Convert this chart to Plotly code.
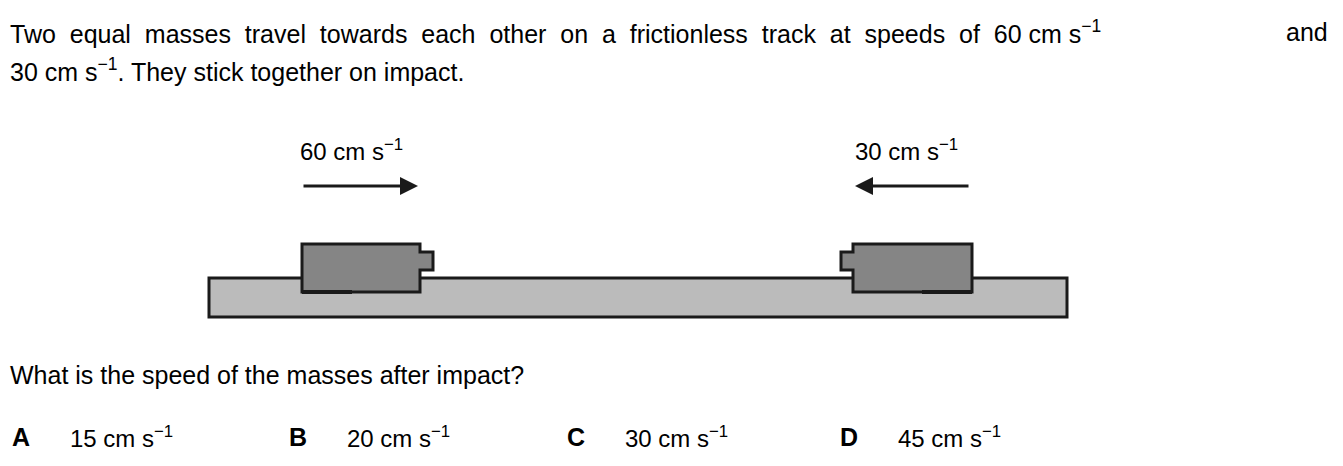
import plotly.graph_objects as go

speeds = [60, 30]
options = ["A", "B", "C", "D"]
answers = [15, 20, 30, 45]
option_x = [10, 287, 565, 838]

W, H = 1343, 466
OFF = 8  # page body margin
FONT = "Liberation Sans, Arial, sans-serif"
unit = " cm s<sup>−1</sup>"

fig = go.Figure()

ann = []


def text(x, y, s, size=25, anchor="left", bold=False):
    ann.append(dict(x=x, y=y, text=f"<b>{s}</b>" if bold else s, showarrow=False,
                    xanchor=anchor, yanchor="middle",
                    font=dict(family=FONT, size=size, color="black")))


text(8, 32, "Two  equal  masses  travel  towards  each  other  on  a  frictionless  track  at  speeds  of  "
     f"{speeds[0]}{unit}")
text(1330, 32, "and", anchor="right")
text(8, 70, f"{speeds[1]}{unit}. They stick together on impact.")
text(298, 150, f"{speeds[0]}{unit}", size=24)
text(853, 150, f"{speeds[1]}{unit}", size=24)
text(8, 375, "What is the speed of the masses after impact?")
for x0, o, a in zip(option_x, options, answers):
    text(x0, 437, o, bold=True)
    text(x0 + 58, 437, f"{a}{unit}", size=24)

line = dict(color="#1a1a1a", width=3)
shapes = [
    dict(type="rect", x0=209, x1=1067, y0=278, y1=317, fillcolor="#bbbbbb", line=line),
]
# carts: left faces right, right faces left
shapes.append(dict(type="path", path="M302,244 L420,244 L420,252 L433,252 L433,270 L420,270 L420,292 L302,292 Z",
                   fillcolor="#858585", line=line))
shapes.append(dict(type="path", path="M972,244 L853,244 L853,252 L841,252 L841,270 L853,270 L853,292 L972,292 Z",
                   fillcolor="#858585", line=line))
shapes.append(dict(type="line", x0=302, x1=352, y0=292, y1=292, line=dict(color="#1a1a1a", width=4)))
shapes.append(dict(type="line", x0=922, x1=972, y0=292, y1=292, line=dict(color="#1a1a1a", width=4)))

fig.update_layout(shapes=shapes, annotations=ann)
# velocity arrows
fig.add_annotation(x=418, y=186, ax=302, ay=186, xref="x", yref="y", axref="x", ayref="y",
                   text="", showarrow=True, arrowhead=2, arrowsize=1.2, arrowwidth=3, arrowcolor="#1a1a1a")
fig.add_annotation(x=855, y=186, ax=970, ay=186, xref="x", yref="y", axref="x", ayref="y",
                   text="", showarrow=True, arrowhead=2, arrowsize=1.2, arrowwidth=3, arrowcolor="#1a1a1a")

fig.update_xaxes(range=[OFF, W + OFF], visible=False)
fig.update_yaxes(range=[H + OFF, OFF], visible=False)
fig.update_layout(width=W, height=H, margin=dict(l=0, r=0, t=0, b=0),
                  plot_bgcolor="white", paper_bgcolor="white", showlegend=False)

fig.write_html("out.html")
